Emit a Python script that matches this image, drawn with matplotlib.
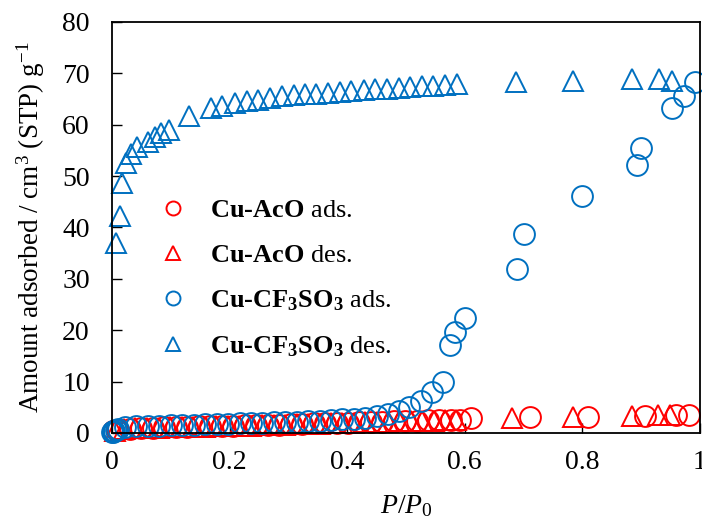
import numpy as np
import matplotlib
matplotlib.use("Agg")
import matplotlib.pyplot as plt

plt.rcParams['font.family'] = ['Liberation Serif', 'DejaVu Serif']
plt.rcParams['mathtext.fontset'] = 'custom'
plt.rcParams['mathtext.rm'] = 'Liberation Serif'
plt.rcParams['mathtext.it'] = 'Liberation Serif:italic'
plt.rcParams['mathtext.bf'] = 'Liberation Serif:bold'

RED = '#FF0000'
BLUE = '#0070C0'

# Cu-AcO adsorption
aco_ads_x = [0.002, 0.008, 0.031, 0.050, 0.070, 0.089, 0.109, 0.128, 0.148, 0.167, 0.187,
             0.206, 0.226, 0.245, 0.265, 0.284, 0.304, 0.323, 0.343, 0.362, 0.382, 0.401,
             0.421, 0.440, 0.460, 0.479, 0.499, 0.518, 0.538, 0.557, 0.577, 0.592, 0.611,
             0.711, 0.809, 0.906, 0.959, 0.982]
aco_ads_y = [0.3, 0.6, 0.85, 0.95, 1.05, 1.1, 1.15, 1.2, 1.3, 1.35, 1.4,
             1.45, 1.5, 1.55, 1.6, 1.65, 1.7, 1.8, 1.85, 1.9, 1.95, 2.0,
             2.1, 2.15, 2.2, 2.3, 2.35, 2.4, 2.45, 2.5, 2.55, 2.6, 2.85,
             3.2, 3.2, 3.4, 3.5, 3.6]

# Cu-AcO desorption
aco_des_x = [0.005, 0.021, 0.040, 0.060, 0.080, 0.099, 0.119, 0.138, 0.158, 0.177, 0.197,
             0.216, 0.236, 0.255, 0.275, 0.294, 0.314, 0.333, 0.353, 0.372, 0.392, 0.411,
             0.431, 0.450, 0.470, 0.489, 0.509, 0.528, 0.548, 0.567, 0.585,
             0.681, 0.784, 0.884, 0.929, 0.949]
aco_des_y = [0.4, 0.8, 0.9, 1.0, 1.05, 1.1, 1.15, 1.2, 1.25, 1.3, 1.35,
             1.4, 1.45, 1.5, 1.55, 1.6, 1.7, 1.75, 1.8, 1.85, 1.9, 2.0,
             2.05, 2.1, 2.2, 2.25, 2.3, 2.35, 2.4, 2.5, 2.55,
             2.85, 3.2, 3.3, 3.5, 3.5]

# Cu-CF3SO3 adsorption
cf_ads_x = [0.0005, 0.001, 0.002, 0.004, 0.007, 0.010,
            0.022, 0.041, 0.061, 0.080, 0.100, 0.119, 0.139, 0.158, 0.178, 0.197,
            0.217, 0.236, 0.256, 0.275, 0.295, 0.314, 0.334, 0.353, 0.373, 0.392,
            0.412, 0.431, 0.450, 0.469, 0.488, 0.506, 0.525, 0.544, 0.563,
            0.575, 0.584, 0.601, 0.689, 0.700, 0.800, 0.893, 0.900, 0.952, 0.973, 0.992]
cf_ads_y = [0.1, 0.2, 0.3, 0.45, 0.6, 0.8,
            1.2, 1.3, 1.35, 1.45, 1.5, 1.55, 1.6, 1.7, 1.75, 1.8,
            1.85, 1.9, 2.0, 2.05, 2.1, 2.2, 2.3, 2.4, 2.5, 2.65,
            2.8, 3.0, 3.3, 3.7, 4.3, 5.1, 6.3, 7.9, 10.0,
            17.1, 19.7, 22.3, 32.0, 38.7, 46.2, 52.2, 55.4, 63.3, 65.6, 68.3]

# Cu-CF3SO3 desorption
cf_des_x = [0.007, 0.0136, 0.017, 0.024, 0.032, 0.043, 0.061, 0.073, 0.083, 0.097,
            0.131, 0.168, 0.188, 0.209, 0.229, 0.249, 0.268, 0.290, 0.309, 0.329,
            0.347, 0.368, 0.388, 0.407, 0.428, 0.448, 0.467, 0.488, 0.507, 0.527,
            0.546, 0.566, 0.587, 0.687, 0.785, 0.884, 0.931, 0.952]
cf_des_y = [37.0, 42.3, 48.6, 52.5, 54.3, 55.7, 56.7, 57.7, 58.3, 59.0,
            61.6, 63.2, 63.6, 64.2, 64.6, 64.9, 65.1, 65.5, 65.7, 65.9,
            66.0, 66.2, 66.3, 66.5, 66.7, 66.9, 67.0, 67.2, 67.3, 67.5,
            67.6, 67.8, 67.9, 68.4, 68.6, 68.9, 68.9, 68.6]

fig = plt.figure(figsize=(7.02, 5.22), dpi=100)
ax = fig.add_axes([0.1595, 0.1705, 0.8375, 0.7875])

ms = 15
mew = 1.4
ax.plot(aco_ads_x, aco_ads_y, 'o', ms=ms, mfc='none', mec=RED, mew=mew, clip_on=False,
        label=r'Cu-AcO $\mathrm{ads.}$')
ax.plot(aco_des_x, aco_des_y, '^', ms=ms, mfc='none', mec=RED, mew=mew, clip_on=False,
        label=r'Cu-AcO $\mathrm{des.}$')
ax.plot(cf_ads_x, cf_ads_y, 'o', ms=ms, mfc='none', mec=BLUE, mew=mew, clip_on=False,
        label=r'Cu-CF$_\mathbf{3}$SO$_\mathbf{3}$ $\mathrm{ads.}$')
ax.plot(cf_des_x, cf_des_y, '^', ms=ms, mfc='none', mec=BLUE, mew=mew, clip_on=False,
        label=r'Cu-CF$_\mathbf{3}$SO$_\mathbf{3}$ $\mathrm{des.}$')

ax.set_xlim(0, 1)
ax.set_ylim(0, 80)
ax.set_xticks([0, 0.2, 0.4, 0.6, 0.8, 1])
ax.set_xticklabels(['0', '0.2', '0.4', '0.6', '0.8', '1'])
ax.set_yticks(np.arange(0, 81, 10))
ax.tick_params(direction='in', length=7, width=1, labelsize=20, colors='black')
ax.tick_params(axis='x', pad=12)
ax.tick_params(axis='y', pad=16)
for s in ax.spines.values():
    s.set_linewidth(1.3)

ax.set_xlabel(r'$P$/$P_{\mathrm{0}}$', fontsize=20)
ax.xaxis.set_label_coords(0.5, -0.147)
ax.set_ylabel(r'Amount adsorbed / cm$^{\mathrm{3}}$ (STP) g$^{\mathrm{-1}}$', fontsize=19.5)
ax.yaxis.set_label_coords(-0.11, 0.5)

leg = ax.legend(loc='upper left', bbox_to_anchor=(0.045, 0.615), frameon=False,
                prop={'weight': 'bold', 'size': 19}, markerscale=0.67,
                handlelength=1.2, handletextpad=0.8, labelspacing=0.81,
                borderaxespad=0.3)

fig.savefig('out.png', dpi=100)
